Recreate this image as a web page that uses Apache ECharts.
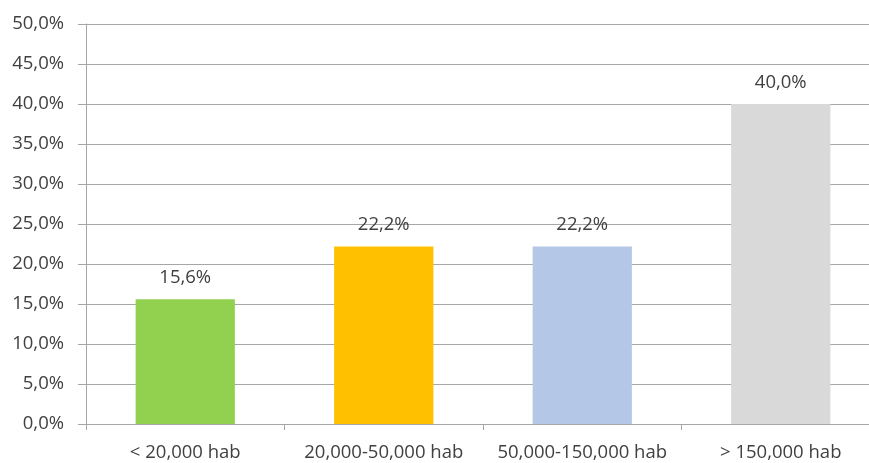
<!DOCTYPE html>
<html>
<head>
<meta charset="utf-8">
<script src="https://cdn.jsdelivr.net/npm/echarts@6/dist/echarts.min.js"></script>
<style>html,body{margin:0;padding:0;background:#fff;overflow:hidden;width:869px;height:463px}#c{width:900px;height:463px}</style>
</head>
<body>
<div id="c"></div>
<script>
var categories = ['< 20,000 hab', '20,000-50,000 hab', '50,000-150,000 hab', '> 150,000 hab'];
var values = [15.6, 22.2, 22.2, 40.0];
var colors = ['#92D050', '#FFC000', '#B4C7E7', '#D9D9D9'];
var yMin = 0, yMax = 50, yStep = 5;

function fmt(v) { return v.toFixed(1).replace('.', ',') + '%'; }

var FONT = 'Open Sans';
var FS = 18.5;
var chart = echarts.init(document.getElementById('c'));
chart.setOption({
  animation: false,
  grid: { left: 86, top: 24, width: 794, height: 400, containLabel: false },
  xAxis: {
    type: 'category',
    data: categories,
    axisLine: { lineStyle: { color: '#A6A6A6', width: 1 } },
    axisTick: { show: true, interval: 0, length: 6, lineStyle: { color: '#A6A6A6' } },
    axisLabel: { interval: 0, hideOverlap: false, color: '#404040', fontFamily: FONT, fontSize: FS, margin: 19 }
  },
  yAxis: {
    type: 'value',
    min: yMin, max: yMax, interval: yStep,
    axisLine: { show: true, lineStyle: { color: '#A6A6A6', width: 1 } },
    axisTick: { show: true, length: 8, lineStyle: { color: '#A6A6A6' } },
    splitLine: { lineStyle: { color: '#A6A6A6', width: 1 } },
    axisLabel: { color: '#404040', fontFamily: FONT, fontSize: FS, margin: 22, formatter: fmt }
  },
  series: [{
    type: 'bar',
    barWidth: '50%',
    data: values.map(function (v, i) { return { value: v, itemStyle: { color: colors[i] } }; }),
    label: { show: true, position: 'top', distance: 12, color: '#404040', fontFamily: FONT, fontSize: FS, formatter: function (p) { return fmt(p.value); } }
  }]
});
</script>
</body>
</html>
